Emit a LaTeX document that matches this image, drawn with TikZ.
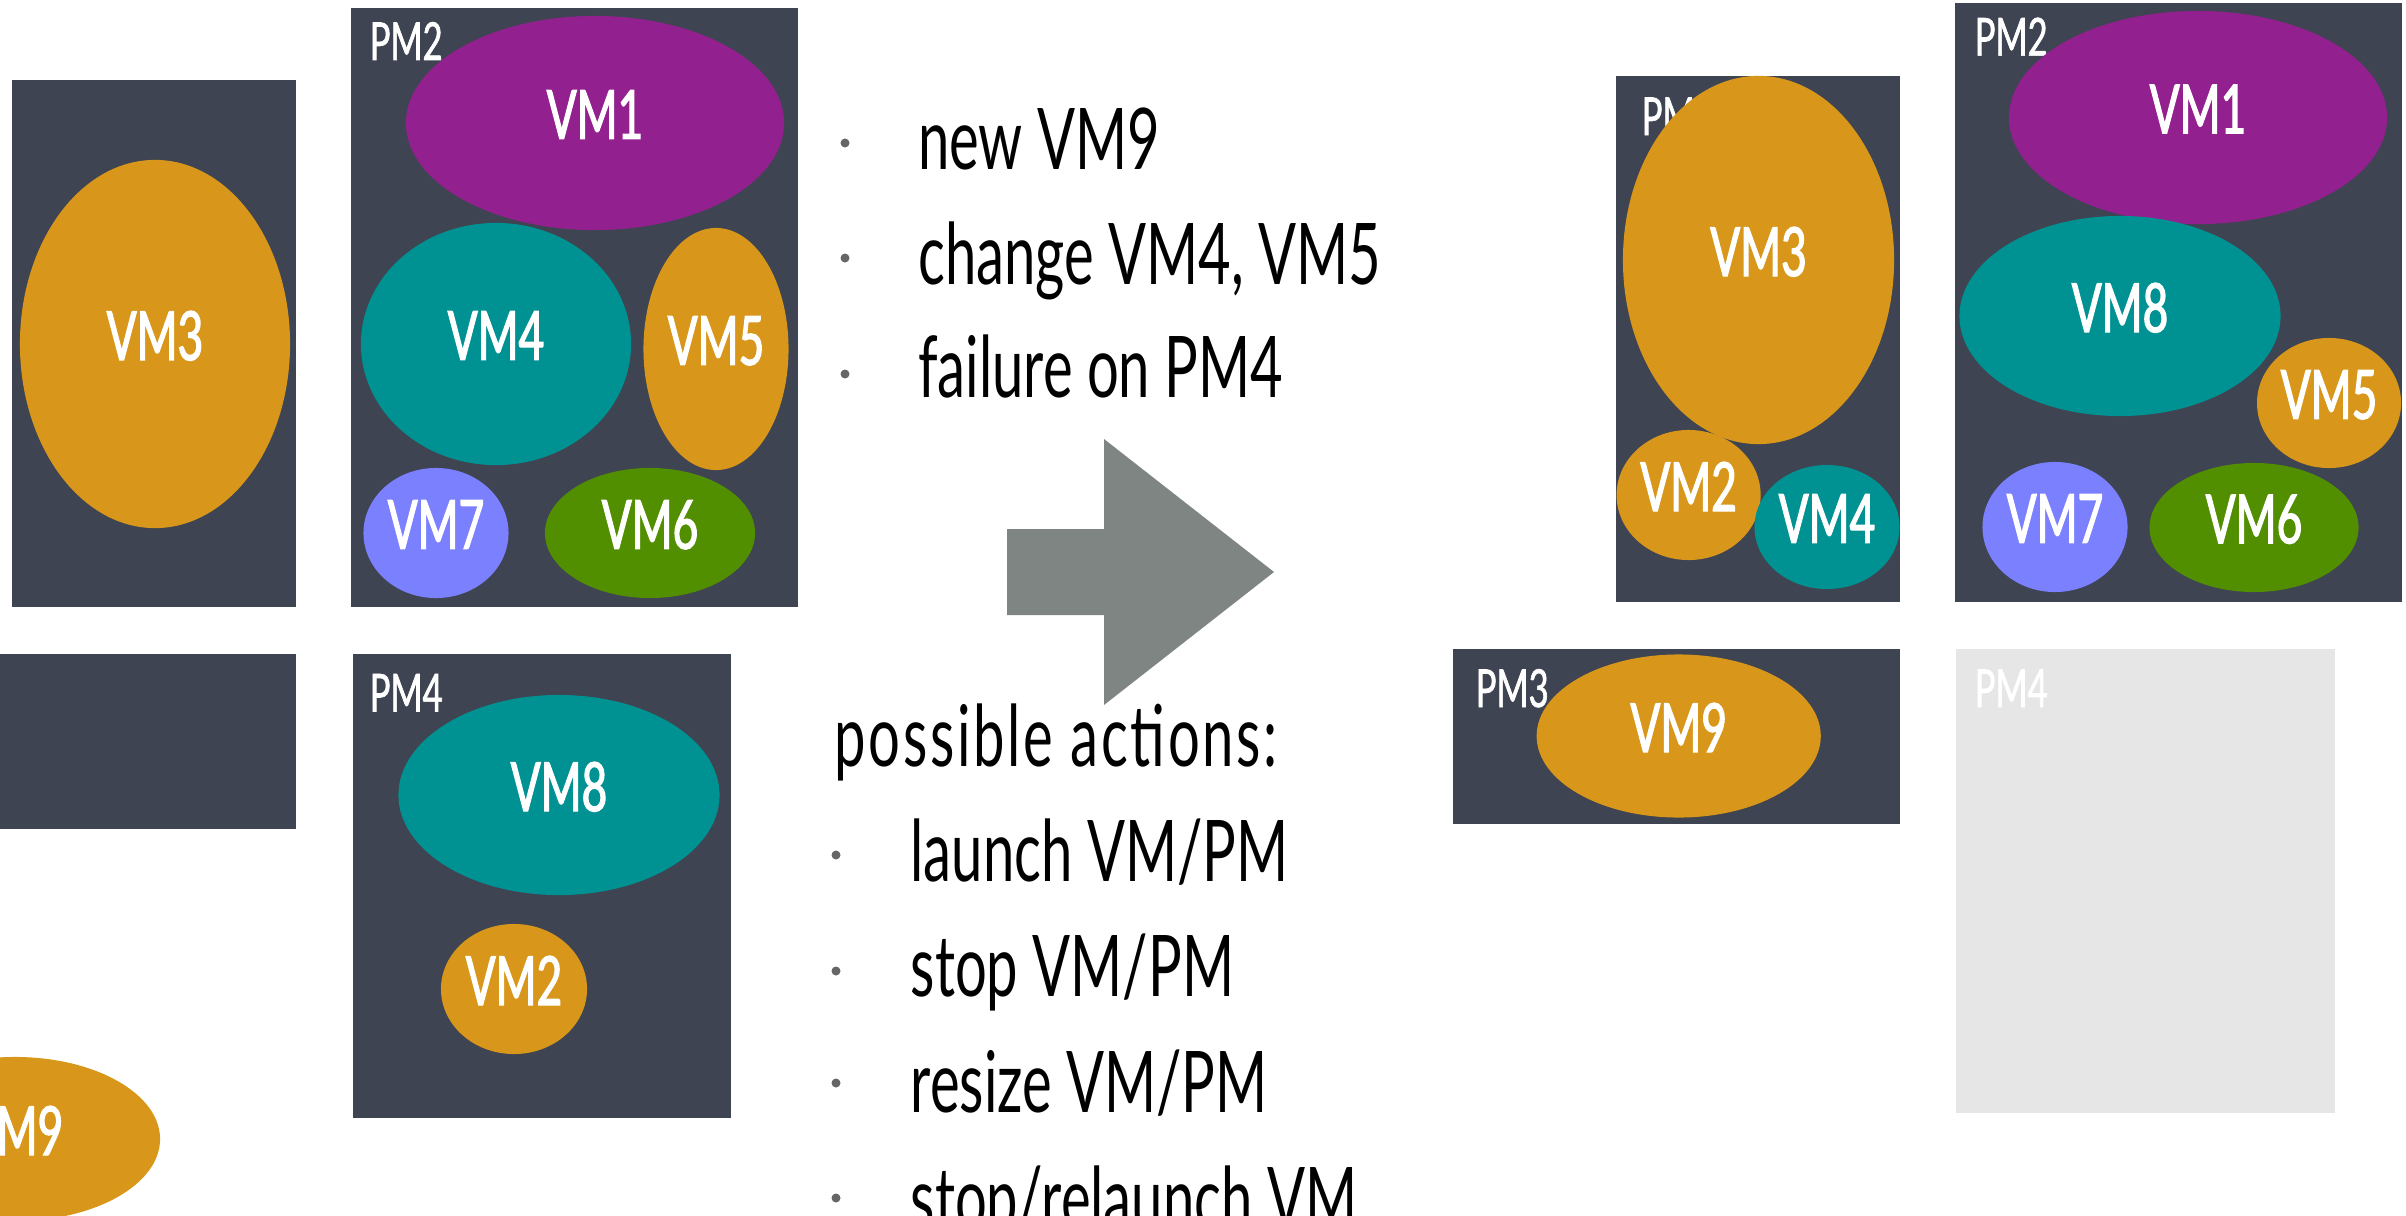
\documentclass[tikz,border=0pt]{standalone}
\usepackage{fontspec}
\setmainfont{Lato}[FakeStretch=0.66]
\newfontfamily\vmfont{Lato}[FakeStretch=0.65, FakeBold=1.8]
\newfontfamily\pmfont{Lato}[FakeStretch=0.66, FakeBold=1.2]
\usetikzlibrary{shapes.geometric}

\definecolor{pmdark}{HTML}{3E4451}
\definecolor{pmgone}{HTML}{E6E6E6}
\definecolor{vmorange}{HTML}{D8971A}
\definecolor{vmpurple}{HTML}{93208F}
\definecolor{vmteal}{HTML}{009292}
\definecolor{vmlavender}{HTML}{7B80FE}
\definecolor{vmgreen}{HTML}{528F00}
\definecolor{arrowgray}{HTML}{7F8583}
\definecolor{bulletgray}{HTML}{666666}

\newcommand\vmsize{\vmfont\fontsize{19.3pt}{23pt}\selectfont}
\newcommand\pmsize{\pmfont\fontsize{14.9pt}{18pt}\selectfont}
\newcommand\txtsize{\fontsize{24.2pt}{29pt}\selectfont}

\begin{document}
\begin{tikzpicture}[x=0.01cm, y=-0.01cm,
  pm/.style={rectangle, fill=pmdark, draw=none, anchor=north west,
    inner sep=0pt, outer sep=0pt},
  pmoff/.style={pm, fill=pmgone},
  pmlabel/.style={anchor=base west, inner sep=0pt, text=white, font=\pmsize},
  vm/.style 2 args={ellipse, draw=none, inner sep=0pt, text=white,
    font=\vmsize, text depth=0.17cm, minimum width=#1, minimum height=#2},
  itemtext/.style={anchor=base west, inner sep=0pt, font=\txtsize},
  bulletdot/.style={circle, fill=bulletgray, draw=none, inner sep=0pt,
    minimum size=0.09cm}]

\useasboundingbox (0,0) rectangle (2406,1215);
\clip (0,0) rectangle (2406,1215);

% ---------- initial placement ----------
\node[pm, minimum width=2.84cm, minimum height=5.27cm] (pm1a) at (12,80) {};
\node[vm={2.70cm}{3.68cm}, fill=vmorange] (vm3a) at (155,344) {VM3};

\node[pm, minimum width=4.47cm, minimum height=5.99cm] (pm2a) at (351,8) {};
\node[pmlabel] (pm2alabel) at (369,60) {PM2};
\node[vm={3.78cm}{2.14cm}, fill=vmpurple] (vm1a) at (595,123) {VM1};
\node[vm={2.70cm}{2.42cm}, fill=vmteal] (vm4a) at (496,344) {VM4};
\node[vm={1.45cm}{2.42cm}, fill=vmorange] (vm5a) at (716,349) {VM5};
\node[vm={1.45cm}{1.30cm}, fill=vmlavender] (vm7a) at (436,533) {VM7};
\node[vm={2.10cm}{1.30cm}, fill=vmgreen] (vm6a) at (650,533) {VM6};

\node[pm, minimum width=3.06cm, minimum height=1.75cm] (pm3a) at (-10,654) {};

\node[pm, minimum width=3.78cm, minimum height=4.64cm] (pm4a) at (353,654) {};
\node[pmlabel] (pm4alabel) at (369,711.5) {PM4};
\node[vm={3.21cm}{2.00cm}, fill=vmteal] (vm8a) at (559,795) {VM8};
\node[vm={1.46cm}{1.30cm}, fill=vmorange] (vm2a) at (514,989) {VM2};

\node[vm={2.90cm}{1.64cm}, fill=vmorange] (vm9a) at (15,1139) {VM9};

% ---------- events ----------
\node[bulletdot] (b1) at (845,143) {};
\node[bulletdot] (b2) at (845,258) {};
\node[bulletdot] (b3) at (845,374) {};
\node[itemtext] (ev1) at (917.5,169) {new VM9};
\node[itemtext] (ev2) at (917.5,284) {change VM4, VM5};
\node[itemtext] (ev3) at (917.5,397.5) {failure on PM4};

% ---------- transition arrow ----------
\fill[arrowgray] (1007,529) -- (1104,529) -- (1104,439) -- (1274,572)
  -- (1104,705) -- (1104,615) -- (1007,615) -- cycle;

% ---------- possible actions ----------
\node[itemtext] (acthead) at (834,766)
  {\addfontfeature{LetterSpace=3.2}possible actions:};
\node[bulletdot] (b4) at (836,855) {};
\node[bulletdot] (b5) at (836,971) {};
\node[bulletdot] (b6) at (836,1083) {};
\node[bulletdot] (b7) at (836,1198) {};
\node[itemtext] (act1) at (910,881) {launch VM/PM};
\node[itemtext] (act2) at (910,996) {stop VM/PM};
\node[itemtext] (act3) at (910,1112) {resize VM/PM};
\node[itemtext] (act4) at (910,1228) {stop/relaunch VM};

% ---------- resulting placement ----------
\node[pm, minimum width=2.84cm, minimum height=5.265cm] (pm1b) at (1616,75.5) {};
\node[pmlabel] (pm1blabel) at (1641,135) {PM1};
\node[vm={2.71cm}{3.68cm}, fill=vmorange] (vm3b) at (1758.5,260) {VM3};
\node[vm={1.44cm}{1.30cm}, fill=vmorange] (vm2b) at (1688.6,495) {VM2};
\node[vm={1.45cm}{1.24cm}, fill=vmteal] (vm4b) at (1827,527) {VM4};

\node[pm, minimum width=4.47cm, minimum height=5.99cm] (pm2b) at (1954.6,3) {};
\node[pmlabel] (pm2blabel) at (1974,55.6) {PM2};
\node[vm={3.78cm}{2.13cm}, fill=vmpurple] (vm1b) at (2198,117.5) {VM1};
\node[vm={3.21cm}{2.00cm}, fill=vmteal] (vm8b) at (2120,316) {VM8};
\node[vm={1.44cm}{1.30cm}, fill=vmorange] (vm5b) at (2329,403) {VM5};
\node[vm={1.45cm}{1.30cm}, fill=vmlavender] (vm7b) at (2055,527) {VM7};
\node[vm={2.09cm}{1.29cm}, fill=vmgreen] (vm6b) at (2254,527.5) {VM6};

\node[pm, minimum width=4.47cm, minimum height=1.75cm] (pm3b) at (1453,649) {};
\node[pmlabel] (pm3blabel) at (1475,707) {PM3};
\node[vm={2.84cm}{1.63cm}, fill=vmorange] (vm9b) at (1678.7,736) {VM9};

\node[pmoff, minimum width=3.79cm, minimum height=4.64cm] (pm4b) at (1956,649) {};
\node[pmlabel] (pm4blabel) at (1974,707) {PM4};

\end{tikzpicture}
\end{document}
